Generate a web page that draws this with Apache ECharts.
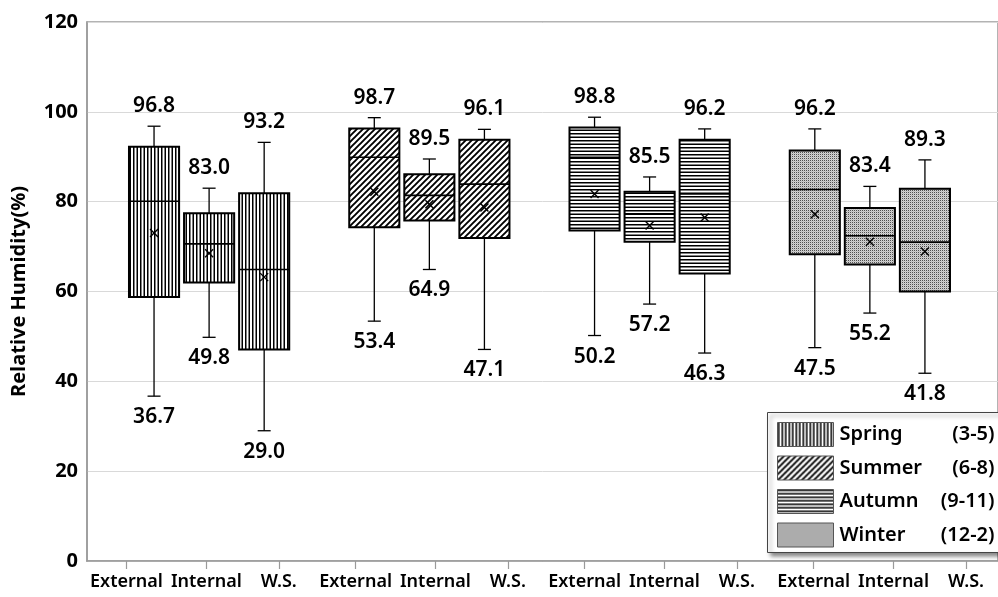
<!DOCTYPE html>
<html>
<head>
<meta charset="utf-8">
<script src="https://cdn.jsdelivr.net/npm/echarts@6/dist/echarts.min.js"></script>
<style>
  html, body { margin: 0; padding: 0; background: #fff; }
  #chart { width: 998px; height: 597px; }
</style>
</head>
<body>
<div id="chart"></div>
<script>
// ---- data: relative humidity statistics per season, for [External, Internal, W.S.] ----
const seasons = ['Spring', 'Summer', 'Autumn', 'Winter'];
const seasonMonths = ['(3-5)', '(6-8)', '(9-11)', '(12-2)'];
const locations = ['External', 'Internal', 'W.S.'];

const maxVals    = [[96.8, 83.0, 93.2], [98.7, 89.5, 96.1], [98.8, 85.5, 96.2], [96.2, 83.4, 89.3]];
const q3Vals     = [[92.2, 77.4, 81.9], [96.3, 86.1, 93.8], [96.5, 82.2, 93.8], [91.4, 78.6, 82.9]];
const medianVals = [[80.1, 70.6, 64.9], [89.9, 81.4, 83.9], [89.9, 77.3, 81.7], [82.7, 72.4, 71.0]];
const q1Vals     = [[58.8, 62.0, 47.1], [74.3, 75.8, 71.9], [73.6, 71.1, 64.0], [68.3, 66.0, 60.0]];
const minVals    = [[36.7, 49.8, 29.0], [53.4, 64.9, 47.1], [50.2, 57.2, 46.3], [47.5, 55.2, 41.8]];
const meanVals   = [[73.0, 68.5, 63.2], [82.2, 79.4, 78.7], [81.7, 74.7, 76.5], [77.2, 71.1, 68.9]];

// ---- layout of the horizontal value axis (units = box slots) ----
const GROUP_SLOTS = 4;          // three boxes plus one empty slot between seasons
const BOX_WIDTH = 0.91;         // in slot units
const LABEL_GROUP_STEP = 4.16;  // spacing of the category labels per season
const LABEL_OFFSETS = [-0.50, 0.95, 2.265];
const X_MIN = -1.2175, X_MAX = 15.327;

const FONT = '"Open Sans", "Noto Sans", "DejaVu Sans", sans-serif';
const LABEL_FONT = '"Noto Sans", "Open Sans", "DejaVu Sans", sans-serif';

// ---- fill patterns, one per season ----
function makePattern(w, h, draw) {
  const c = document.createElement('canvas');
  c.width = w; c.height = h;
  const ctx = c.getContext('2d');
  ctx.fillStyle = '#fff';
  ctx.fillRect(0, 0, w, h);
  draw(ctx, w, h);
  return { image: c, repeat: 'repeat' };
}
const patterns = [
  // vertical lines
  makePattern(7, 7, (ctx, w, h) => {
    ctx.fillStyle = '#000';
    ctx.fillRect(0, 0, 1.5, h);
    ctx.fillRect(3.5, 0, 1.5, h);
  }),
  // diagonal "/" hatching
  makePattern(6, 6, (ctx, s) => {
    ctx.strokeStyle = '#000';
    ctx.lineWidth = 1.9;
    ctx.beginPath();
    ctx.moveTo(-1, s + 1); ctx.lineTo(s + 1, -1);
    ctx.moveTo(-1, 1); ctx.lineTo(1, -1);
    ctx.moveTo(s - 1, s + 1); ctx.lineTo(s + 1, s - 1);
    ctx.stroke();
  }),
  // horizontal lines
  makePattern(7, 7, (ctx, w, h) => {
    ctx.fillStyle = '#000';
    ctx.fillRect(0, 0, w, 1.5);
    ctx.fillRect(0, 3.5, w, 1.5);
  }),
  // fine dotted stipple
  makePattern(2, 2, (ctx) => {
    ctx.fillStyle = '#505050'; ctx.fillRect(0, 0, 1, 1);
    ctx.fillStyle = '#d2d2d2'; ctx.fillRect(1, 0, 1, 1); ctx.fillRect(0, 1, 1, 1);
    ctx.fillStyle = '#bdbdbd'; ctx.fillRect(1, 1, 1, 1);
  })
];

// ---- tick positions and labels for the horizontal axis ----
const tickPositions = [];
const tickLabels = [];
seasons.forEach((s, g) => {
  locations.forEach((loc, j) => {
    tickPositions.push(g * LABEL_GROUP_STEP + LABEL_OFFSETS[j]);
    tickLabels.push(loc);
  });
});
function labelFor(v) {
  let best = 0;
  tickPositions.forEach((p, i) => { if (Math.abs(p - v) < Math.abs(tickPositions[best] - v)) best = i; });
  return tickLabels[best];
}

// ---- box renderer ----
function renderBox(params, api) {
  const x = api.value(0);
  const top = api.coord([x, api.value(1)]);
  const cx = top[0];
  const yMax = top[1];
  const yQ3 = api.coord([x, api.value(2)])[1];
  const yMed = api.coord([x, api.value(3)])[1];
  const yQ1 = api.coord([x, api.value(4)])[1];
  const yMin = api.coord([x, api.value(5)])[1];
  const yMean = api.coord([x, api.value(6)])[1];
  const halfW = api.size([BOX_WIDTH, 0])[0] / 2;
  const capHalf = 6.5;
  const m = 4;
  const lineStyle = { stroke: '#000', lineWidth: 1.3 };
  const textStyle = { fill: '#000', font: '600 21px ' + LABEL_FONT, align: 'center', verticalAlign: 'middle' };
  return {
    type: 'group',
    children: [
      { type: 'line', shape: { x1: cx, y1: yQ3, x2: cx, y2: yMax }, style: lineStyle },
      { type: 'line', shape: { x1: cx - capHalf, y1: yMax, x2: cx + capHalf, y2: yMax }, style: lineStyle },
      { type: 'line', shape: { x1: cx, y1: yQ1, x2: cx, y2: yMin }, style: lineStyle },
      { type: 'line', shape: { x1: cx - capHalf, y1: yMin, x2: cx + capHalf, y2: yMin }, style: lineStyle },
      {
        type: 'rect',
        shape: { x: cx - halfW, y: yQ3, width: halfW * 2, height: yQ1 - yQ3 },
        style: { fill: patterns[params.seriesIndex], stroke: '#000', lineWidth: 2 }
      },
      { type: 'line', shape: { x1: cx - halfW, y1: yMed, x2: cx + halfW, y2: yMed }, style: { stroke: '#000', lineWidth: 1.6 } },
      { type: 'line', shape: { x1: cx - m, y1: yMean - m, x2: cx + m, y2: yMean + m }, style: { stroke: '#000', lineWidth: 1.4 } },
      { type: 'line', shape: { x1: cx - m, y1: yMean + m, x2: cx + m, y2: yMean - m }, style: { stroke: '#000', lineWidth: 1.4 } },
      { type: 'text', x: cx, y: yMax - 20, style: Object.assign({ text: api.value(1).toFixed(1) }, textStyle) },
      { type: 'text', x: cx, y: yMin + 21, style: Object.assign({ text: api.value(5).toFixed(1) }, textStyle) }
    ]
  };
}

const series = seasons.map((name, g) => ({
  name: name,
  type: 'custom',
  renderItem: renderBox,
  clip: false,
  encode: { x: 0, y: [1, 2, 3, 4, 5, 6] },
  data: locations.map((loc, j) => [
    g * GROUP_SLOTS + j,
    maxVals[g][j], q3Vals[g][j], medianVals[g][j], q1Vals[g][j], minVals[g][j], meanVals[g][j]
  ])
}));

// ---- legend drawn as a framed box above the plot ----
const LEGEND_Z = 100;
const legendChildren = [{
  type: 'rect',
  z: LEGEND_Z,
  shape: { x: 0, y: 0, width: 260, height: 140 },
  style: { fill: '#fff', stroke: '#444', lineWidth: 1, shadowBlur: 4, shadowOffsetX: 3, shadowOffsetY: 3, shadowColor: 'rgba(0,0,0,0.45)' }
}];
seasons.forEach((name, g) => {
  const cy = 22 + g * 33.5;
  legendChildren.push({
    type: 'rect',
    z: LEGEND_Z + 1,
    shape: { x: 10, y: cy - 12, width: 56, height: 24 },
    style: { fill: patterns[g], stroke: '#555', lineWidth: 1 }
  });
  legendChildren.push({
    type: 'text', x: 72, y: cy, z: LEGEND_Z + 1,
    style: { text: name, fill: '#000', font: '600 20px ' + LABEL_FONT, verticalAlign: 'middle', align: 'left' }
  });
  legendChildren.push({
    type: 'text', x: 227, y: cy, z: LEGEND_Z + 1,
    style: { text: seasonMonths[g], fill: '#000', font: '600 20px ' + LABEL_FONT, verticalAlign: 'middle', align: 'right' }
  });
});

const chart = echarts.init(document.getElementById('chart'), null, { renderer: 'canvas' });
chart.setOption({
  animation: false,
  backgroundColor: '#fff',
  grid: {
    left: 87, right: -13, top: 22, bottom: 36,
    show: true, borderColor: '#9a9a9a', borderWidth: 1.5, backgroundColor: 'transparent'
  },
  xAxis: {
    type: 'value',
    min: X_MIN, max: X_MAX,
    splitLine: { show: false },
    axisLine: { show: true, onZero: false, lineStyle: { color: '#9a9a9a', width: 1.5 } },
    axisTick: { show: true, customValues: tickPositions, length: 8, lineStyle: { color: '#9a9a9a', width: 1.2 } },
    axisLabel: {
      customValues: tickPositions,
      formatter: labelFor,
      margin: 12,
      color: '#000',
      fontSize: 18,
      fontWeight: 600,
      fontFamily: LABEL_FONT
    }
  },
  yAxis: {
    type: 'value',
    min: 0, max: 120, interval: 20,
    name: 'Relative Humidity(%)',
    nameLocation: 'middle',
    nameRotate: 90,
    nameGap: 58,
    nameTextStyle: { color: '#000', fontSize: 20, fontWeight: 'bold', fontFamily: FONT },
    axisLine: { show: true, onZero: false, lineStyle: { color: '#9a9a9a', width: 1.5 } },
    axisTick: { show: false },
    splitLine: { lineStyle: { color: '#d9d9d9', width: 1 } },
    axisLabel: { color: '#000', fontSize: 20, fontWeight: 'bold', fontFamily: FONT, margin: 9 }
  },
  series: series,
  graphic: [{ type: 'group', left: 767, top: 412, z: LEGEND_Z, children: legendChildren }]
});
</script>
</body>
</html>
